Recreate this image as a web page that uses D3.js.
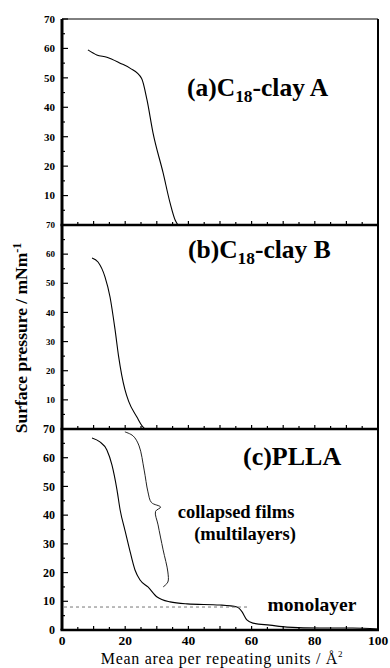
<!DOCTYPE html>
<html>
<head>
<meta charset="utf-8">
<script src="https://cdn.jsdelivr.net/npm/d3@7"></script>
<style>
  body { margin: 0; background: #fff; }
  text { font-family: "Liberation Serif", "DejaVu Serif", serif; }
</style>
</head>
<body>
<div id="chart"></div>
<script>
// isotherm data (area in A^2, pressure in mN/m)
const areaA = [8.2, 11, 14.2, 18.4, 21.5, 25.2, 26.9, 28.8, 32, 34.2, 35.8, 36.7];
const pressA = [59.5, 57.8, 57, 55, 53.3, 49.8, 42.5, 31.3, 17.7, 7.5, 1.7, 0];

const areaB = [9.5, 11.4, 13.6, 15.2, 16.8, 17.9, 18.9, 19.9, 21.1, 23.7, 25.6, 26.3];
const pressB = [58.7, 57.3, 52.2, 45.3, 34, 25, 18.5, 13.6, 9.5, 4.1, 0.7, 0];

const areaC = [9.5, 12, 14.2, 15.8, 17.4, 18.4, 19.9, 21.2, 23.1, 24.7, 27.2, 30.1, 34.2, 39.6, 50, 55.4, 57, 58.5, 60.4, 65.8, 71.2, 81.6, 92, 100];
const pressC = [66.9, 65.5, 62.7, 57.5, 48.8, 41.8, 34.8, 28.9, 20.9, 17.4, 15, 11.5, 9.8, 9.1, 8.7, 8, 6.3, 3.5, 2.4, 1.7, 1, 0.7, 0.7, 0.35];

// brace marking the collapsed region (data coords of panel c)
const braceX = [19.9, 22.5, 24.4, 26, 27.2, 28.3, 31.2, 29.6, 30.4, 32, 33.5, 33.5, 32];
const braceY = [69, 67.6, 64.1, 55.7, 48.1, 44.4, 42.8, 41.3, 36.6, 27.9, 20.2, 16.7, 15];

const monolayerP = 8;
const monolayerEnd = 59;

const xTicks = [0, 20, 40, 60, 80, 100];
const yTicks = [0, 10, 20, 30, 40, 50, 60, 70];

const W = 390, H = 668;
const left = 62, right = 378;

const panels = [
  { top: 19, bottom: 225, xs: areaA, ys: pressA, labels: yTicks.slice(1), fs: 11 },
  { top: 225, bottom: 429, xs: areaB, ys: pressB, labels: yTicks.slice(1), fs: 9 },
  { top: 429, bottom: 630, xs: areaC, ys: pressC, labels: yTicks, fs: 12 }
];

const svg = d3.select("#chart").append("svg")
  .attr("width", W).attr("height", H);

const x = d3.scaleLinear().domain([0, 100]).range([left, right]);

panels.forEach((p, i) => {
  const y = d3.scaleLinear().domain([0, 70]).range([p.bottom, p.top]);
  p.y = y;
  const g = svg.append("g");

  // frame
  g.append("line").attr("x1", right).attr("x2", right)
    .attr("y1", p.top).attr("y2", p.bottom)
    .attr("stroke", "#000").attr("stroke-width", 2);
  if (i === 0) {
    g.append("line").attr("x1", left).attr("x2", right)
      .attr("y1", p.top).attr("y2", p.top)
      .attr("stroke", "#000").attr("stroke-width", 1);
  }

  // y ticks pointing inside
  const yMinor = d3.range(0, 71, 5);
  g.selectAll(".yt").data(yMinor).enter().append("line")
    .attr("x1", left).attr("x2", d => left + (d % 10 === 0 ? 6 : 3))
    .attr("y1", d => y(d)).attr("y2", d => y(d))
    .attr("stroke", "#000").attr("stroke-width", 1.2);

  // x ticks pointing up
  const xMinor = d3.range(0, 101, 5);
  g.selectAll(".xt").data(xMinor).enter().append("line")
    .attr("x1", d => x(d)).attr("x2", d => x(d))
    .attr("y1", p.bottom).attr("y2", d => p.bottom - (d % 10 === 0 ? 4 : 3))
    .attr("stroke", "#000").attr("stroke-width", 1.2);

  // y labels
  g.selectAll(".yl").data(p.labels).enter().append("text")
    .attr("x", 55).attr("y", d => y(d) + p.fs * 0.35)
    .attr("text-anchor", "end")
    .attr("font-size", p.fs).attr("font-weight", "bold")
    .text(d => d);

  // left and bottom axes (thick)
  g.append("line").attr("x1", left).attr("x2", left)
    .attr("y1", p.top).attr("y2", p.bottom)
    .attr("stroke", "#000").attr("stroke-width", 3);
  g.append("line").attr("x1", left - 1.5).attr("x2", right + 1)
    .attr("y1", p.bottom).attr("y2", p.bottom)
    .attr("stroke", "#000").attr("stroke-width", 2.5);

  // curve
  const line = d3.line()
    .x((d, k) => x(p.xs[k]))
    .y((d, k) => y(p.ys[k]))
    .curve(d3.curveMonotoneX);
  g.append("path").datum(p.xs)
    .attr("d", line)
    .attr("fill", "none").attr("stroke", "#000").attr("stroke-width", 1.1);
});

const yc = panels[2].y;

// monolayer dashed line
svg.append("line")
  .attr("x1", x(0) + 2).attr("x2", x(monolayerEnd))
  .attr("y1", yc(monolayerP)).attr("y2", yc(monolayerP))
  .attr("stroke", "#777").attr("stroke-width", 1)
  .attr("stroke-dasharray", "3,3");

// brace
svg.append("path").datum(braceX)
  .attr("d", d3.line()
    .x((d, k) => x(braceX[k]))
    .y((d, k) => yc(braceY[k]))
    .curve(d3.curveCatmullRom.alpha(0.5)))
  .attr("fill", "none").attr("stroke", "#222").attr("stroke-width", 1);

// x labels
svg.selectAll(".xl").data(xTicks).enter().append("text")
  .attr("x", d => x(d)).attr("y", 645)
  .attr("text-anchor", "middle")
  .attr("font-size", 13.5).attr("font-weight", "bold")
  .text(d => d);

// panel titles
function panelLabel(tx, ty, pre, sub, post, fs) {
  const t = svg.append("text").attr("x", tx).attr("y", ty)
    .attr("font-size", fs).attr("font-weight", "bold");
  t.append("tspan").text(pre);
  if (sub) {
    t.append("tspan").attr("font-size", fs * 0.68).attr("dy", fs * 0.25).text(sub);
    t.append("tspan").attr("dy", -fs * 0.25).text(post);
  }
}
panelLabel(187, 96, "(a)C", "18", "-clay A", 25.5);
panelLabel(188, 258, "(b)C", "18", "-clay B", 25.5);
panelLabel(243, 465, "(c)PLLA", null, null, 26);

svg.append("text").attr("x", 236).attr("y", 518)
  .attr("text-anchor", "middle").attr("font-size", 18.5).attr("font-weight", "bold")
  .text("collapsed films");
svg.append("text").attr("x", 245).attr("y", 540)
  .attr("text-anchor", "middle").attr("font-size", 18.5).attr("font-weight", "bold")
  .text("(multilayers)");
svg.append("text").attr("x", 312).attr("y", 611)
  .attr("text-anchor", "middle").attr("font-size", 19.5).attr("font-weight", "bold")
  .text("monolayer");

// axis titles
const xt = svg.append("text").attr("x", 222).attr("y", 664)
  .attr("text-anchor", "middle").attr("font-size", 16)
  .attr("letter-spacing", 0.7);
xt.append("tspan").text("Mean area per repeating units / Å");
xt.append("tspan").attr("font-size", 9).attr("dy", -7).text("2");

const yt = svg.append("text")
  .attr("transform", "translate(27,338) rotate(-90)")
  .attr("text-anchor", "middle").attr("font-size", 17.5).attr("font-weight", "bold");
yt.append("tspan").text("Surface pressure / mNm");
yt.append("tspan").attr("font-size", 12).attr("dy", -6).text("-1");
</script>
</body>
</html>
